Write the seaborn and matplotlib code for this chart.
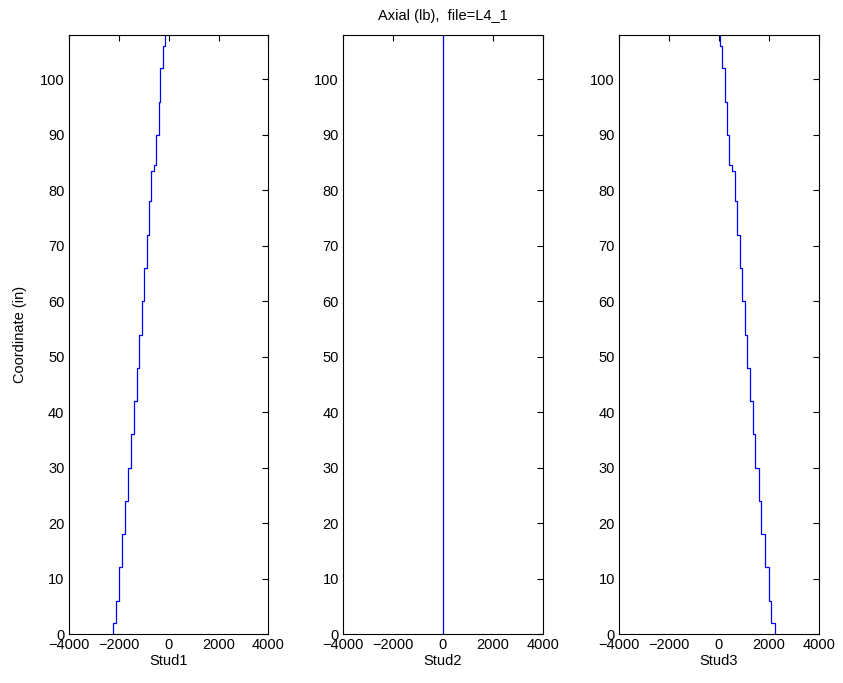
import numpy as np
import pandas as pd
import matplotlib
matplotlib.use("Agg")
import matplotlib.pyplot as plt
import seaborn as sns

# Segment boundaries along the stud (in)
coord_edges = [0, 2, 6, 12, 18, 24, 30, 36, 42, 48, 54, 60, 66, 72, 78,
               83.5, 84.5, 90, 96, 102, 106, 108]
# Axial force per segment (lb), bottom to top
stud1 = [-2230, -2090, -1970, -1855, -1750, -1620, -1515, -1385, -1280,
         -1175, -1070, -965, -875, -795, -695, -590, -500, -390, -325,
         -225, -130]
stud2 = [0] * 21
stud3 = [2223, 2090, 1994, 1821, 1700, 1592, 1459, 1351, 1230, 1126,
         1029, 937, 828, 724, 627, 523, 414, 322, 225, 120, 50]
names = ["Stud1", "Stud2", "Stud3"]
title = "Axial (lb),  file=L4_1"
xticks = [-4000, -2000, 0, 2000, 4000]
yticks = list(range(0, 101, 10))

sns.set_style("white")
plt.rcParams["font.family"] = ["Liberation Sans", "DejaVu Sans"]
plt.rcParams["font.size"] = 10.5
plt.rcParams["text.color"] = "black"
plt.rcParams["axes.labelcolor"] = "black"

fig = plt.figure(figsize=(8.43, 6.83), dpi=100)
lefts = [0.0813, 0.4069, 0.7343]
w, b, h = 0.2372, 0.0717, 0.877

for i, (name, vals) in enumerate(zip(names, [stud1, stud2, stud3])):
    ax = fig.add_axes([lefts[i], b, w, h])
    xs, ys = [], []
    for k, v in enumerate(vals):
        xs += [v, v]
        ys += [coord_edges[k], coord_edges[k + 1]]
    df = pd.DataFrame({"force": xs, "coord": ys})
    sns.lineplot(data=df, x="force", y="coord", sort=False, estimator=None,
                 color=(0, 0, 1), linewidth=0.9, ax=ax)
    ax.set_xlim(-4000, 4000)
    ax.set_ylim(0, 108)
    ax.set_xticks(xticks)
    ax.set_yticks(yticks)
    ax.set_xticklabels([f"{t}".replace("-", "\u2212") for t in xticks])
    ax.set_xlabel(name, fontsize=10.5, labelpad=1)
    ax.set_ylabel("Coordinate (in)" if i == 0 else "", fontsize=10.5,
                  labelpad=9)
    ax.tick_params(direction="in", length=4, width=0.8, top=True, right=True,
                   labelsize=10.5, colors="black", pad=3)
    for sp in ax.spines.values():
        sp.set_visible(True)
        sp.set_color("black")
        sp.set_linewidth(0.8)
    if i == 1:
        ax.set_title(title, fontsize=10.5, pad=11, color="black")

fig.savefig("out.png", dpi=100)
